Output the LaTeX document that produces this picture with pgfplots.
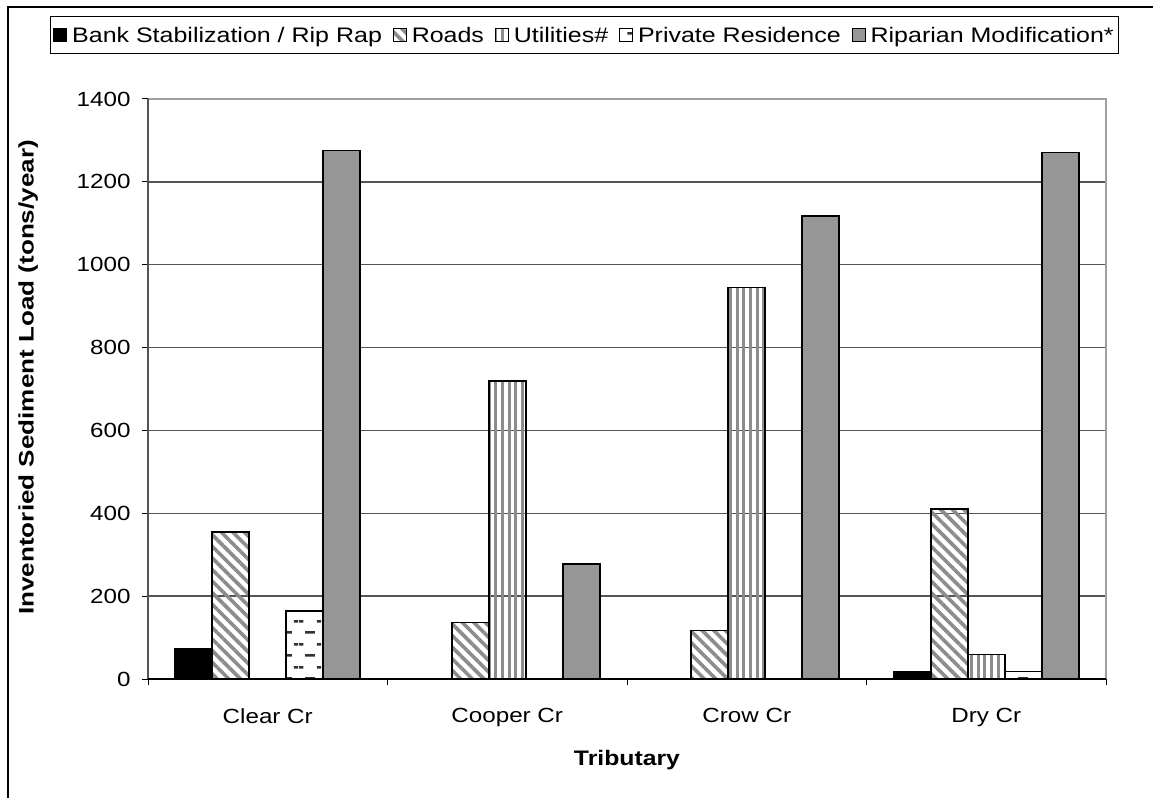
\documentclass[border=0pt]{standalone}
\usepackage{fontspec}
\setmainfont{Liberation Sans}
\usepackage{pgfplots}
\pgfplotsset{compat=1.18}
\usetikzlibrary{patterns.meta}

\definecolor{ripgray}{HTML}{969696}
\definecolor{stripegray}{HTML}{8C8C8C}
\definecolor{gridgray}{HTML}{555555}
\definecolor{boxgray}{HTML}{A0A0A0}
\definecolor{dashgray}{HTML}{333333}

\newcommand{\sx}[1]{\scalebox{1.18}[1]{#1}}

\tikzdeclarepattern{
  name=dashrows,
  type=uncolored,
  bounding box={(0pt,0pt) and (23pt,23pt)},
  tile size={(23pt,23pt)},
  code={
    \pgfsetlinewidth{2.6pt}
    \pgfpathmoveto{\pgfpoint{6.5pt}{5.75pt}}\pgfpathlineto{\pgfpoint{16.5pt}{5.75pt}}
    \pgfpathmoveto{\pgfpoint{0pt}{17.25pt}}\pgfpathlineto{\pgfpoint{4.5pt}{17.25pt}}
    \pgfpathmoveto{\pgfpoint{18.5pt}{17.25pt}}\pgfpathlineto{\pgfpoint{23pt}{17.25pt}}
    \pgfusepath{stroke}
  }
}

\pgfplotsset{
  legsq/.style={legend image code/.code={\draw[##1, line width=0.8pt] (0pt,-6.5pt) rectangle (13pt,6.5pt);}},
}

\begin{document}
\begin{tikzpicture}
\useasboundingbox (0,0) rectangle (1153pt,798pt);
\begin{axis}[
  at={(148pt,119pt)}, anchor=south west,
  scale only axis, width=958pt, height=580pt,
  ybar=0pt, bar width=37pt,
  xmin=-0.5, xmax=3.5, ymin=0, ymax=1400,
  xtick={0,1,2,3}, xticklabels={\sx{Clear Cr}, \sx{Cooper Cr}, \sx{Crow Cr}, \sx{Dry Cr}},
  minor xtick={-0.5,0.5,1.5,2.5,3.5},
  ytick={0,200,...,1400},
  yticklabel={\sx{\pgfmathprintnumber{\tick}}},
  tick pos=left, tick align=outside,
  major x tick style={draw=none},
  minor x tick style={black, line width=1pt},
  major y tick style={black, line width=1pt},
  major tick length=6pt, minor tick length=6pt,
  ymajorgrids, grid style={gridgray, line width=1.3pt},
  axis line style={draw=none},
  /pgf/number format/assume math mode=true,
  /pgf/number format/1000 sep={},
  tick label style={font=\fontsize{20.5}{24}\selectfont},
  yticklabel style={xshift=-8pt},
  xticklabel style={yshift=-20pt},
  label style={font=\fontsize{21}{25}\selectfont\bfseries},
  xlabel={\sx{Tributary}},
  ylabel={\scalebox{1.24}[1]{Inventoried Sediment Load (tons/year)}},
  xlabel style={at={(axis description cs:0.5,-0.14)}, anchor=center},
  ylabel style={at={(axis description cs:-0.125,0.52)}, anchor=center},
  legend style={at={(0.4557,1.110)}, anchor=center, legend columns=-1,
    draw=black, line width=0.8pt, font=\fontsize{21}{25}\selectfont,
    inner xsep=3pt, inner ysep=8pt,
    /tikz/every even column/.append style={column sep=9pt},
    /tikz/every odd column/.append style={column sep=3pt}},
]
\addplot[legsq, draw=black, line width=1.6pt, fill=black] coordinates {(0,73) (3,18)};
\addplot[legsq, draw=black, line width=1.6pt, pattern={Lines[angle=-45,distance=8.2pt,line width=3.6pt]}, pattern color=stripegray] coordinates {(0,355) (1,136) (2,117) (3,411)};
\addplot[legsq, draw=black, line width=1.6pt, pattern={Lines[angle=90,distance=6.7pt,line width=3pt]}, pattern color=stripegray] coordinates {(1,720) (2,945) (3,59)};
\addplot[legsq, draw=black, line width=1.6pt, pattern=dashrows, pattern color=dashgray] coordinates {(0,164) (3,18)};
\addplot[legsq, draw=black, line width=1.6pt, fill=ripgray] coordinates {(0,1276) (1,277) (2,1117) (3,1271)};
\legend{\scalebox{1.19}[1]{Bank Stabilization / Rip Rap}, \scalebox{1.19}[1]{Roads}, \scalebox{1.19}[1]{Utilities\#}, \scalebox{1.19}[1]{Private Residence}, \scalebox{1.19}[1]{Riparian Modification*}}
\end{axis}
\draw[boxgray, line width=1.3pt] (current axis.north west) -- (current axis.north east) -- (current axis.south east);
\draw[gridgray, line width=1.5pt] (current axis.north west) -- (current axis.south west);
\draw[black, line width=1.5pt] (current axis.south west) -- (current axis.south east);
\draw[black, line width=2pt] (8pt,0pt) -- (8pt,791pt) -- (1153pt,791pt);
\end{tikzpicture}
\end{document}
